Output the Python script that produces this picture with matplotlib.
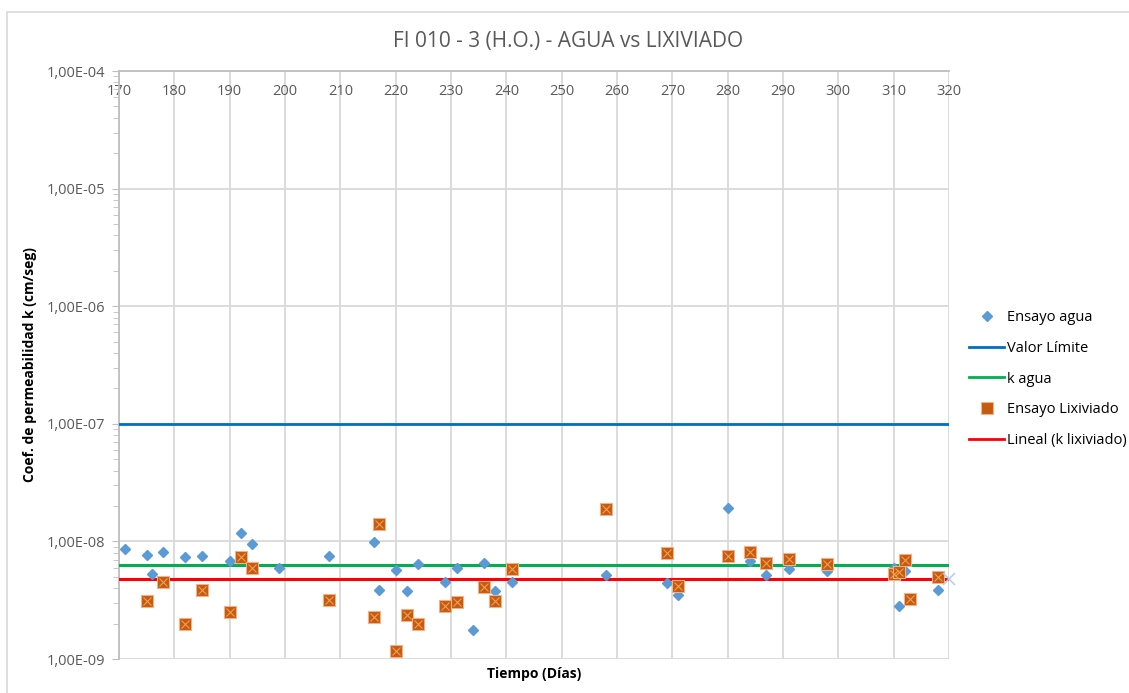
import matplotlib
matplotlib.use("Agg")
import matplotlib.pyplot as plt
from matplotlib.ticker import FixedLocator, FuncFormatter, LogLocator, NullFormatter
from matplotlib.lines import Line2D
from matplotlib.patches import Rectangle

plt.rcParams['font.family'] = ['Open Sans', 'DejaVu Sans']

# Ensayo agua (dias, k cm/seg)
dias_agua = [171, 175, 176, 178, 182, 185, 190, 192, 194, 199, 208, 216, 217, 220,
             222, 224, 229, 231, 234, 236, 238, 241, 258, 269, 271, 280, 284, 287,
             291, 298, 310, 311, 312, 318]
k_agua = [8.7e-9, 7.7e-9, 5.3e-9, 8.2e-9, 7.4e-9, 7.5e-9, 6.8e-9, 1.19e-8, 9.5e-9,
          5.9e-9, 7.5e-9, 9.9e-9, 3.9e-9, 5.7e-9, 3.8e-9, 6.4e-9, 4.5e-9, 6.0e-9,
          1.77e-9, 6.5e-9, 3.8e-9, 4.5e-9, 5.2e-9, 4.4e-9, 3.5e-9, 1.94e-8, 6.8e-9,
          5.2e-9, 5.8e-9, 5.6e-9, 6.0e-9, 2.85e-9, 5.6e-9, 3.9e-9]

# Ensayo Lixiviado
dias_lix = [175, 178, 182, 185, 190, 192, 194, 208, 216, 217, 220, 222, 224, 229,
            231, 236, 238, 241, 258, 269, 271, 280, 284, 287, 291, 298, 310, 311,
            312, 313, 318]
k_lix = [3.1e-9, 4.5e-9, 2.0e-9, 3.9e-9, 2.5e-9, 7.4e-9, 5.9e-9, 3.15e-9, 2.3e-9,
         1.41e-8, 1.18e-9, 2.35e-9, 1.98e-9, 2.84e-9, 3.08e-9, 4.1e-9, 3.1e-9, 5.8e-9,
         1.9e-8, 8.0e-9, 4.2e-9, 7.5e-9, 8.2e-9, 6.5e-9, 7.1e-9, 6.4e-9, 5.3e-9,
         5.5e-9, 6.9e-9, 3.25e-9, 5.0e-9]

valor_limite = 1e-7
k_agua_medio = 6.35e-9
k_lix_medio = 4.8e-9

x_min, x_max = 170, 320
y_min, y_max = 1e-9, 1e-4
x_ticks = list(range(170, 321, 10))

gris = '#595959'
grid_col = '#D9D9D9'
naranja = '#C55A11'
naranja_claro = '#F4B183'

fig = plt.figure(figsize=(11.29, 6.93), dpi=100)
ax = fig.add_axes([0.1054, 0.049, 0.7352, 0.8485])

fig.patches.append(Rectangle((0.006, -0.01), 1.0, 0.993, transform=fig.transFigure,
                             fill=False, edgecolor='#D9D9D9', linewidth=1.2))

ax.set_yscale('log')
ax.set_xlim(x_min, x_max)
ax.set_ylim(y_min, y_max)

ax.axhline(valor_limite, color='#0070C0', linewidth=2, zorder=3)
ax.axhline(k_agua_medio, color='#00B050', linewidth=2.2, zorder=3)
ax.plot([x_min, x_max], [k_lix_medio, k_lix_medio], color='#FF0000', linewidth=2.2, zorder=3)
ax.plot([x_max], [k_lix_medio], linestyle='none', marker='x', markersize=8,
        color='#B4CBEE', markeredgewidth=1.1, zorder=6, clip_on=False)

ax.plot(dias_agua, k_agua, linestyle='none', marker='D', markersize=5.5,
        color='#5B9BD5', markeredgecolor='#5B9BD5', zorder=4)
ax.plot(dias_lix, k_lix, linestyle='none', marker='s', markersize=8.5,
        markerfacecolor=naranja, markeredgecolor=naranja_claro, markeredgewidth=0.8, zorder=5)
ax.plot(dias_lix, k_lix, linestyle='none', marker='x', markersize=5.5,
        color='#F0A050', markeredgewidth=0.8, zorder=5)

# grid
ax.xaxis.set_major_locator(FixedLocator(x_ticks))
ax.yaxis.set_major_locator(LogLocator(base=10, numticks=10))
ax.yaxis.set_minor_locator(LogLocator(base=10, subs=range(2, 10), numticks=20))
ax.yaxis.set_minor_formatter(NullFormatter())
ax.yaxis.set_major_formatter(FuncFormatter(lambda v, p: f"{v:.2E}".replace('.', ',')))
ax.grid(True, which='major', color=grid_col, linewidth=1.3, zorder=0)
ax.set_axisbelow(True)

for s in ['right', 'bottom']:
    ax.spines[s].set_visible(False)
for s in ['top', 'left']:
    ax.spines[s].set_color('#BFBFBF')
    ax.spines[s].set_linewidth(1.3)

ax.xaxis.tick_top()
ax.tick_params(axis='x', which='both', top=True, bottom=False, labeltop=True, labelbottom=False,
               direction='in', length=0, pad=-20, labelsize=10.5, labelcolor=gris)
ax.tick_params(axis='y', which='major', length=5, color='#BFBFBF', labelsize=10.5, labelcolor=gris, pad=5)
ax.tick_params(axis='y', which='minor', length=4, color='#BFBFBF')

ax.set_xlabel('Tiempo (Días)', fontsize=10, fontweight='bold', labelpad=6)
ax.xaxis.set_label_position('bottom')
ax.set_ylabel('Coef. de permeabilidad k (cm/seg)', fontsize=10, fontweight='bold', labelpad=7)

fig.text(0.503, 0.940, 'FI 010 - 3 (H.O.) - AGUA vs LIXIVIADO', ha='center', va='center',
         fontsize=15, color=gris)

handles = [
    Line2D([], [], linestyle='none', marker='D', markersize=5.5, color='#5B9BD5'),
    Line2D([], [], color='#0070C0', linewidth=2),
    Line2D([], [], color='#00B050', linewidth=2),
    Line2D([], [], linestyle='none', marker='s', markersize=8, markerfacecolor=naranja,
           markeredgecolor=naranja_claro, markeredgewidth=0.8),
    Line2D([], [], color='#FF0000', linewidth=2),
]
labels = ['Ensayo agua', 'Valor Límite', 'k agua', 'Ensayo Lixiviado', 'Lineal (k lixiviado)']
fig.legend(handles, labels, loc='center left', bbox_to_anchor=(0.847, 0.453), frameon=False,
           fontsize=10.5, handlelength=2.4, handletextpad=0.2, labelspacing=1.08)

fig.savefig('out.png', dpi=100)
